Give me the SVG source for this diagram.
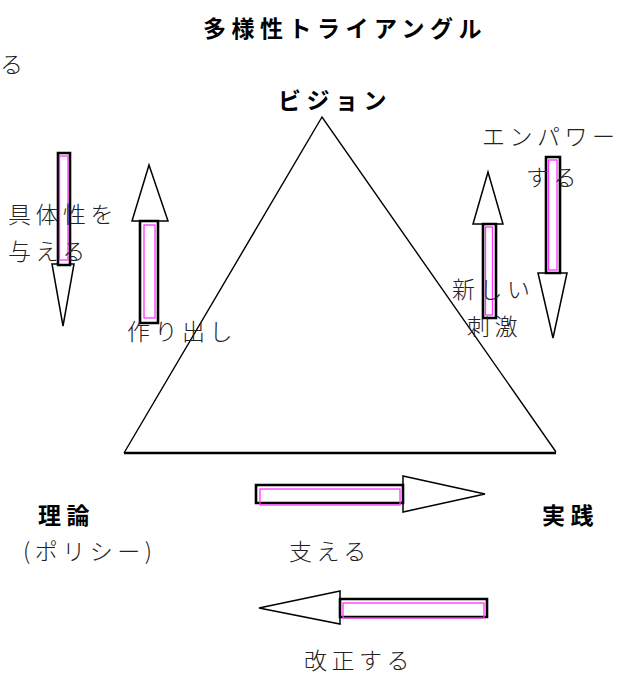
<svg xmlns="http://www.w3.org/2000/svg" width="635" height="675" viewBox="0 0 635 675">
<style>
.t{font-family:"Noto Sans CJK JP","Noto Sans CJK SC",sans-serif;font-size:23px;fill:#222;font-weight:300;letter-spacing:4.5px}
.b{font-family:"Noto Sans CJK JP","Noto Sans CJK SC",sans-serif;font-size:23px;fill:#000;font-weight:bold;letter-spacing:5.5px}
.ar{fill:#fff;stroke:#000;stroke-width:1.5}
.sh{fill:#fff;stroke:#000;stroke-width:2.6}
.mg{fill:none;stroke:#ff33ff;stroke-width:1.3}
.tri{fill:none;stroke:#000;stroke-width:1.4}
</style>
<rect width="635" height="675" fill="#fff"/>
<g id="title"><text class="b" x="203" y="37">多様性トライアングル</text></g>
<g id="ru"><text class="t" x="0" y="73">る</text></g>
<g id="triangle">
<polyline class="tri" points="124,453 322,117 556,452"/>
<line x1="124" y1="453" x2="556" y2="453" stroke="#000" stroke-width="2.4"/>
</g>
<g id="vision"><text class="b" x="278" y="109">ビジョン</text></g>
<g id="theory"><text class="b" x="38" y="524">理論</text><text class="t" x="23" y="560" letter-spacing="3">(ポリシー)</text></g>
<g id="practice"><text class="b" x="542" y="524">実践</text></g>
<g id="connectors">
<polygon class="ar" points="52,264 74,264 63,326"/>
<polygon class="sh" points="58,153 70,153 70,265 58,265"/>
<rect class="mg" x="59.5" y="156" width="8.5" height="104"/>
<polygon class="ar" points="149,165 168,221 132,221"/>
<polygon class="sh" points="140,221 158,221 158,323 140,323"/>
<rect class="mg" x="144" y="225" width="11" height="93"/>
<polygon class="ar" points="488,172 503,224 473,224"/>
<polygon class="sh" points="483,224 496,224 496,318 483,318"/>
<rect class="mg" x="485.5" y="227" width="7" height="88"/>
<polygon class="ar" points="538,273 567,273 553,338"/>
<polygon class="sh" points="546,157 560,157 560,273 546,273"/>
<rect class="mg" x="548.5" y="160" width="8.5" height="110"/>
<polygon class="ar" points="403,476 485,494 403,512"/>
<polygon class="sh" points="256,485 403,485 403,503 256,503"/>
<rect class="mg" x="260" y="489" width="140" height="16"/>
<polygon class="ar" points="340,591 259,608 340,624"/>
<polygon class="sh" points="340,599 487,599 487,617 340,617"/>
<rect class="mg" x="343" y="603" width="141" height="15"/>
</g>
<g id="lbl-gutai"><text class="t" x="8" y="223">具体性を</text><text class="t" x="8" y="260">与える</text></g>
<g id="lbl-tsukuri"><text class="t" x="127" y="340">作り出し</text></g>
<g id="lbl-empower"><text class="t" x="482" y="145">エンパワー</text><text class="t" x="526" y="186">する</text></g>
<g id="lbl-shigeki"><text class="t" x="452" y="298">新しい</text><text class="t" x="467" y="335">刺激</text></g>
<g id="lbl-sasaeru"><text class="t" x="289" y="560">支える</text></g>
<g id="lbl-kaisei"><text class="t" x="304" y="669">改正する</text></g>
</svg>
